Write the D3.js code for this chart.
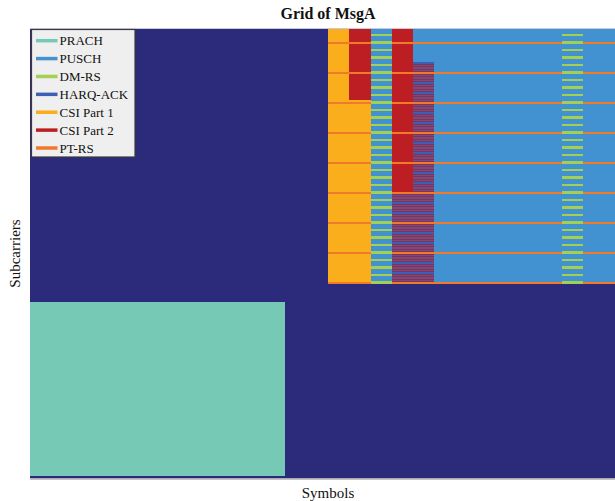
<!DOCTYPE html>
<html>
<head>
<meta charset="utf-8">
<script src="https://cdn.jsdelivr.net/npm/d3@7"></script>
<style>
  html, body { margin: 0; padding: 0; background: #ffffff; }
  svg { display: block; }
  text { font-family: "Liberation Serif", "Times New Roman", serif; fill: #111; }
</style>
</head>
<body>
<svg id="chart" width="615" height="501"></svg>
<script>
// Resource grid dimensions (two slots of 14 OFDM symbols, 30 RBs)
const nSymbols = 28;
const nSubcarriers = 360;

// Resource element classes, in legend order
const legendLabels = ["PRACH", "PUSCH", "DM-RS", "HARQ-ACK", "CSI Part 1", "CSI Part 2", "PT-RS"];
const legendColors = ["#76c9b4", "#4292d2", "#a3cf52", "#3d5fb3", "#fbae1c", "#bd1e24", "#f07a2a"];
const emptyColor = "#2b2a7b";

// PRACH occasion: symbols and subcarriers (first, last)
const prachSymbols = [0, 11];
const prachSubcarriers = [2, 140];

// PUSCH occasion
const puschSymbols = [14, 27];
const puschSubcarriers = [156, 359];

// DM-RS (configuration type 2, CDM group 0)
const dmrsSymbols = [16, 25];
const dmrsPeriod = 6;
const dmrsOffsets = [0, 1];

// PT-RS: every 24th subcarrier starting at the first PUSCH subcarrier
const ptrsFirst = 156;
const ptrsSpacing = 24;

// UCI multiplexed on PUSCH: [symbol, first subcarrier, last subcarrier, step, class]
const uciMap = [
  [14, 156, 359, 1, "CSI Part 1"],
  [15, 156, 302, 1, "CSI Part 1"],
  [15, 303, 359, 1, "CSI Part 2"],
  [17, 156, 359, 1, "CSI Part 2"],
  [17, 156, 227, 2, "HARQ-ACK"],
  [18, 157, 331, 2, "CSI Part 2"],
  [18, 156, 332, 2, "HARQ-ACK"]
];

// ---- build grid (0 = empty, 1.. = legend index + 1) ----
const grid = d3.range(nSymbols).map(() => new Array(nSubcarriers).fill(0));
const cls = name => legendLabels.indexOf(name) + 1;

for (let s = prachSymbols[0]; s <= prachSymbols[1]; s++)
  for (let k = prachSubcarriers[0]; k <= prachSubcarriers[1]; k++) grid[s][k] = cls("PRACH");

for (let s = puschSymbols[0]; s <= puschSymbols[1]; s++)
  for (let k = puschSubcarriers[0]; k <= puschSubcarriers[1]; k++) grid[s][k] = cls("PUSCH");

dmrsSymbols.forEach(s => {
  for (let k = puschSubcarriers[0]; k <= puschSubcarriers[1]; k++) {
    const r = (k - puschSubcarriers[0]) % dmrsPeriod;
    if (dmrsOffsets.includes(r)) grid[s][k] = cls("DM-RS");
  }
});

uciMap.forEach(([s, a, b, step, name]) => {
  for (let k = a; k <= b; k += step) grid[s][k] = cls(name);
});

for (let s = puschSymbols[0]; s <= puschSymbols[1]; s++) {
  if (dmrsSymbols.includes(s)) continue;
  for (let k = ptrsFirst; k <= puschSubcarriers[1]; k += ptrsSpacing) grid[s][k] = cls("PT-RS");
}

// ---- drawing ----
const svg = d3.select("#chart");
const x = d3.scaleLinear().domain([0, nSymbols]).range([30, 626]);
const y = d3.scaleLinear().domain([0, nSubcarriers]).range([478.5, 28.5]);
const color = c => c === 0 ? emptyColor : legendColors[c - 1];

svg.append("defs").append("clipPath").attr("id", "plotClip")
  .append("rect").attr("x", x(0)).attr("y", y(nSubcarriers))
  .attr("width", x(nSymbols) - x(0)).attr("height", y(0) - y(nSubcarriers));

const plot = svg.append("g").attr("clip-path", "url(#plotClip)");

plot.append("rect")
  .attr("x", x(0)).attr("y", y(nSubcarriers))
  .attr("width", x(nSymbols) - x(0)).attr("height", y(0) - y(nSubcarriers))
  .attr("fill", emptyColor);

// run-length merge each symbol column into rectangles
const runs = [];
grid.forEach((col, s) => {
  let start = 0;
  for (let k = 1; k <= nSubcarriers; k++) {
    if (k === nSubcarriers || col[k] !== col[start]) {
      if (col[start] !== 0) runs.push({ s, k0: start, k1: k, c: col[start] });
      start = k;
    }
  }
});

plot.append("g").attr("shape-rendering", "crispEdges")
  .selectAll("rect").data(runs).join("rect")
  .attr("x", d => x(d.s))
  .attr("width", d => x(d.s + 1) - x(d.s))
  .attr("y", d => y(d.k1))
  .attr("height", d => y(d.k0) - y(d.k1))
  .attr("fill", d => color(d.c));

// bottom axis line
svg.append("line")
  .attr("x1", x(0)).attr("x2", 615)
  .attr("y1", y(0) + 0.5).attr("y2", y(0) + 0.5)
  .attr("stroke", "#8a8a8a").attr("stroke-width", 1);

// title and axis labels
svg.append("text").attr("x", (x(0) + x(nSymbols)) / 2).attr("y", 18.5)
  .attr("text-anchor", "middle").attr("font-weight", "bold").attr("font-size", 16)
  .text("Grid of MsgA");

svg.append("text").attr("x", (x(0) + x(nSymbols)) / 2).attr("y", 497.5)
  .attr("text-anchor", "middle").attr("font-size", 15)
  .text("Symbols");

svg.append("text")
  .attr("transform", `translate(20,${(y(0) + y(nSubcarriers)) / 2}) rotate(-90)`)
  .attr("text-anchor", "middle").attr("font-size", 15)
  .text("Subcarriers");

// legend
const legend = svg.append("g");
legend.append("rect")
  .attr("x", 31.5).attr("y", 29.5).attr("width", 103.5).attr("height", 127.5)
  .attr("fill", "#efefef").attr("stroke", "#3a3a3a").attr("stroke-width", 1.2);

const rowY = d3.scaleLinear().domain([0, legendLabels.length - 1]).range([40.7, 148]);
const items = legend.selectAll("g.item").data(legendLabels).join("g")
  .attr("class", "item")
  .attr("transform", (d, i) => `translate(0,${rowY(i)})`);
items.append("line")
  .attr("x1", 36).attr("x2", 57.5).attr("y1", 0).attr("y2", 0)
  .attr("stroke", (d, i) => legendColors[i]).attr("stroke-width", 3.5);
items.append("text")
  .attr("x", 59.5).attr("y", 4.6).attr("font-size", 13)
  .text(d => d);
</script>
</body>
</html>
